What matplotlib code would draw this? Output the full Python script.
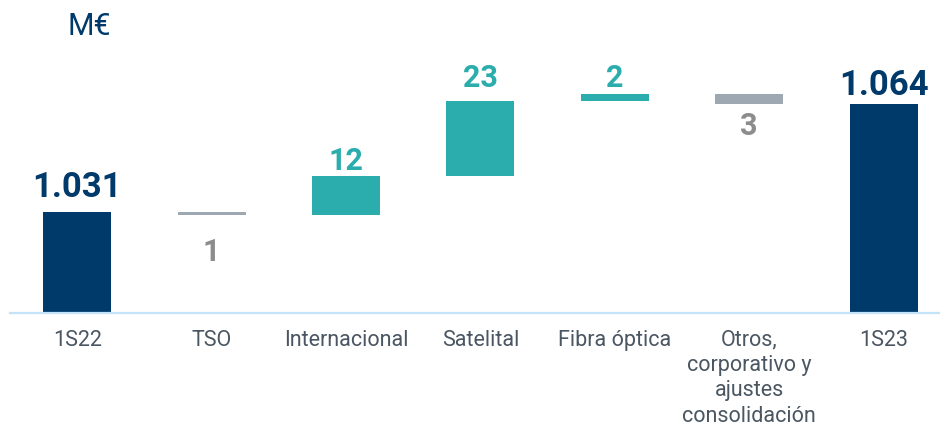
import matplotlib.pyplot as plt
import numpy as np

plt.rcParams['font.family'] = ['Roboto', 'DejaVu Sans']

# Datos (M€)
categorias = ['1S22', 'TSO', 'Internacional', 'Satelital', 'Fibra óptica',
              'Otros,\ncorporativo y\najustes\nconsolidación', '1S23']
inicio = 1031
variaciones = [-1, 12, 23, 2, -3]
final = 1064
etiquetas = ['1.031', '1', '12', '23', '2', '3', '1.064']

base = 1000
navy = '#003A6B'
teal = '#2BADAD'
gris_barra = '#9DA8B2'
gris_texto = '#8C8C8C'

# Construir el waterfall
bottoms = [base]
heights = [inicio - base]
colores = [navy]
nivel = inicio
for v in variaciones:
    if v >= 0:
        bottoms.append(nivel)
        heights.append(v)
        colores.append(teal)
    else:
        bottoms.append(nivel + v)
        heights.append(-v)
        colores.append(gris_barra)
    nivel += v
bottoms.append(base)
heights.append(final - base)
colores.append(navy)

fig = plt.figure(figsize=(9.4, 4.28), dpi=100)
ax = fig.add_axes([10/940, 115/428, 930/940, 313/428])

x = np.arange(len(categorias))
ax.bar(x, heights, bottom=bottoms, width=0.506, color=colores)

# etiquetas: separacion en px hasta la linea base del texto
sep = [15, 46, 6, 14, 7, 31, 9]
for i in range(len(categorias)):
    if i == 0 or i == len(categorias) - 1:
        c, fs, arriba = navy, 25, True
    elif variaciones[i-1] >= 0:
        c, fs, arriba = teal, 22, True
    else:
        c, fs, arriba = gris_texto, 22, False
    if arriba:
        y = bottoms[i] + heights[i]
        dy = sep[i] * 0.72
    else:
        y = bottoms[i]
        dy = -sep[i] * 0.72
    ax.annotate(etiquetas[i], (x[i], y), xytext=(0, dy), textcoords='offset points',
                ha='center', va='baseline', fontsize=fs, fontweight='bold', color=c)

ax.set_xlim(-0.5, 6.42)
ax.set_ylim(base, base + 313/3.265)
ax.set_xticks(x)
ax.set_xticklabels(categorias, fontsize=15.5, color='#4A5662', linespacing=1.27)
ax.tick_params(axis='x', length=0, pad=12)
ax.set_yticks([])
for s in ['top', 'right', 'left']:
    ax.spines[s].set_visible(False)
ax.spines['bottom'].set_color('#C5E3F8')
ax.spines['bottom'].set_linewidth(1.6)

fig.text(68/940, 1 - 35/428, 'M€', fontsize=22, color=navy, ha='left', va='baseline')

fig.savefig('out.png', dpi=100)
